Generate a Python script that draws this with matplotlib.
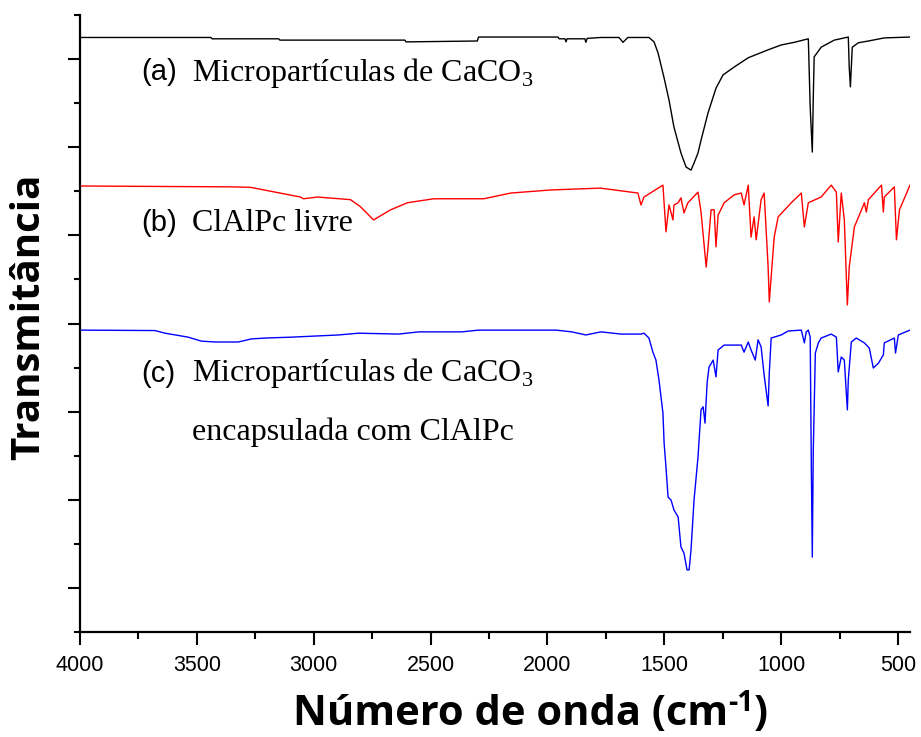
import matplotlib
matplotlib.use("Agg")
import matplotlib.pyplot as plt
from matplotlib.ticker import FixedLocator, NullFormatter

plt.rcParams['mathtext.fontset'] = 'custom'
plt.rcParams['mathtext.rm'] = 'Liberation Serif'

# ---- data (wavenumber cm-1, transmittance in arbitrary offset units) ----
wn_a = [4000, 3440, 3435, 3150, 3145, 2610, 2605, 2300, 2295, 1955, 1950, 1925, 1921, 1916,
        1840, 1836, 1830, 1771, 1694, 1677, 1656, 1566, 1544, 1527, 1501, 1480, 1459, 1429,
        1407, 1386, 1373, 1356, 1343, 1313, 1279, 1249, 1201, 1141, 1056, 1000, 944, 884,
        876, 867, 863, 859, 829, 773, 713, 709, 704, 696, 670, 627, 559, 449]
t_a = [13.49, 13.49, 13.46, 13.46, 13.43, 13.43, 13.39, 13.41, 13.50, 13.50, 13.46, 13.46, 13.39, 13.46,
       13.46, 13.38, 13.47, 13.49, 13.49, 13.38, 13.49, 13.49, 13.39, 13.14, 12.57, 12.07, 11.46, 10.87,
       10.55, 10.48, 10.64, 10.87, 11.16, 11.78, 12.34, 12.64, 12.82, 13.03, 13.21, 13.32, 13.38, 13.46,
       11.91, 10.89, 12.07, 13.05, 13.27, 13.43, 13.50, 12.82, 12.37, 13.27, 13.37, 13.41, 13.48, 13.50]

wn_b = [4000, 3344, 3271, 3057, 3044, 2984, 2843, 2800, 2744, 2671, 2599, 2487, 2273, 2157, 1986,
        1784, 1771, 1613, 1600, 1587, 1506, 1493, 1480, 1463, 1459, 1441, 1429, 1416, 1399, 1356,
        1343, 1321, 1313, 1300, 1287, 1279, 1270, 1244, 1201, 1171, 1159, 1141, 1129, 1116, 1107,
        1086, 1073, 1056, 1051, 1043, 1030, 1013, 957, 914, 901, 884, 829, 786, 764, 756, 743,
        730, 717, 709, 687, 644, 636, 627, 571, 563, 559, 516, 507, 494, 449]
t_b = [10.12, 10.10, 10.09, 9.87, 9.83, 9.87, 9.81, 9.65, 9.35, 9.58, 9.74, 9.83, 9.83, 9.96, 10.03,
       10.07, 10.07, 9.96, 9.69, 9.87, 10.14, 9.08, 9.69, 9.35, 9.69, 9.74, 9.85, 9.51, 9.74, 9.98,
       9.53, 8.28, 8.74, 9.58, 9.58, 8.74, 9.46, 9.74, 9.92, 9.96, 9.69, 10.14, 8.96, 9.42, 8.90,
       9.81, 9.96, 8.28, 7.49, 8.06, 8.96, 9.42, 9.74, 9.96, 9.19, 9.74, 9.87, 10.14, 9.98, 8.85, 9.96,
       9.35, 7.42, 8.28, 9.19, 9.74, 9.53, 9.81, 10.14, 9.53, 9.87, 10.10, 8.90, 9.58, 10.14]

wn_c = [4000, 3679, 3636, 3537, 3481, 3421, 3323, 3267, 3207, 3096, 2894, 2809, 2637, 2551, 2367,
        2294, 1964, 1896, 1836, 1771, 1686, 1600, 1587, 1566, 1549, 1536, 1523, 1506, 1501, 1493,
        1484, 1471, 1459, 1441, 1429, 1416, 1403, 1394, 1386, 1373, 1356, 1343, 1334, 1326, 1317,
        1309, 1291, 1279, 1270, 1244, 1171, 1159, 1141, 1129, 1111, 1099, 1086, 1073, 1056, 1051,
        1043, 1000, 970, 914, 901, 893, 884, 876, 871, 867, 863, 854, 841, 829, 786, 764, 756, 743,
        730, 717, 713, 700, 679, 644, 623, 606, 584, 563, 559, 516, 511, 499, 449]
t_c = [6.85, 6.84, 6.78, 6.69, 6.60, 6.58, 6.58, 6.65, 6.67, 6.69, 6.74, 6.78, 6.76, 6.81, 6.81,
       6.85, 6.85, 6.81, 6.74, 6.81, 6.76, 6.76, 6.78, 6.67, 6.35, 6.17, 5.72, 4.97, 4.29, 3.74,
       3.06, 2.99, 2.77, 2.61, 1.93, 1.79, 1.41, 1.41, 1.86, 2.99, 3.97, 5.04, 5.11, 4.74, 5.65,
       6.01, 6.17, 5.79, 6.40, 6.51, 6.51, 6.35, 6.58, 6.40, 6.17, 6.63, 6.47, 5.83, 5.13, 5.88,
       6.67, 6.74, 6.83, 6.85, 6.56, 6.81, 6.85, 6.69, 3.68, 1.70, 4.06, 6.33, 6.56, 6.67, 6.76, 6.69, 5.90, 6.24,
       6.17, 5.04, 5.72, 6.58, 6.67, 6.56, 6.44, 5.99, 6.10, 6.29, 6.56, 6.67, 6.33, 6.74, 6.85]

x_major = [4000, 3500, 3000, 2500, 2000, 1500, 1000, 500]
x_minor = [3750, 3250, 2750, 2250, 1750, 1250, 750]
x_labels = ["4000", "3500", "3000", "2500", "2000", "1500", "1000", "500"]

labels_tag = ["(a)", "(b)", "(c)"]
labels_text = ["Micropartículas de CaCO$_\\mathrm{3}$", "ClAlPc livre",
               "Micropartículas de CaCO$_\\mathrm{3}$", "encapsulada com ClAlPc"]
ylabel = "Transmitância"
xlabel_parts = ["Número de onda (cm", "-1", ")"]

fig = plt.figure(figsize=(9.21, 7.37), dpi=100)
ax = fig.add_axes([80/921, 1-632/737, 830/921, 617/737])

ax.plot(wn_a, t_a, color='black', lw=1.0)
ax.plot(wn_b, t_b, color='#ff0000', lw=1.0)
ax.plot(wn_c, t_c, color='#0000ff', lw=1.0)

ax.set_xlim(4000, 449)
ax.set_ylim(0, 14)

for s in ['top', 'right']:
    ax.spines[s].set_visible(False)
for s in ['left', 'bottom']:
    ax.spines[s].set_linewidth(1.6)

ax.xaxis.set_major_locator(FixedLocator(x_major))
ax.xaxis.set_minor_locator(FixedLocator(x_minor))
ax.set_xticklabels(x_labels, fontfamily='Liberation Sans', fontsize=15.5)
ax.yaxis.set_major_locator(FixedLocator([1, 3, 5, 7, 9, 11, 13]))
ax.yaxis.set_minor_locator(FixedLocator([0, 2, 4, 6, 8, 10, 12, 14]))
ax.yaxis.set_major_formatter(NullFormatter())
ax.tick_params(axis='x', which='major', direction='out', length=9.5, width=1.5, pad=7)
ax.tick_params(axis='x', which='minor', direction='out', length=5, width=1.5)
ax.tick_params(axis='y', which='major', direction='out', length=9, width=1.5)
ax.tick_params(axis='y', which='minor', direction='out', length=4.5, width=1.5)

sans = 'Liberation Sans'
serif = 'Liberation Serif'
tx_tag = (141-80)/830
tx_txt = (192-80)/830
ys = [(632-80.5)/617, (632-231)/617, (632-381.5)/617, (632-440)/617]
tag_fs = 21
txt_fs = 23
ax.text(tx_tag, ys[0], labels_tag[0], transform=ax.transAxes, fontfamily=sans, fontsize=tag_fs, va='baseline')
ax.text(tx_txt, ys[0], labels_text[0], transform=ax.transAxes, fontfamily=serif, fontsize=txt_fs, va='baseline')
ax.text(tx_tag, ys[1], labels_tag[1], transform=ax.transAxes, fontfamily=sans, fontsize=tag_fs, va='baseline')
ax.text(tx_txt, ys[1], labels_text[1], transform=ax.transAxes, fontfamily=serif, fontsize=txt_fs, va='baseline')
ax.text(tx_tag, ys[2], labels_tag[2], transform=ax.transAxes, fontfamily=sans, fontsize=tag_fs, va='baseline')
ax.text(tx_txt, ys[2], labels_text[2], transform=ax.transAxes, fontfamily=serif, fontsize=txt_fs, va='baseline')
ax.text(tx_txt, ys[3], labels_text[3], transform=ax.transAxes, fontfamily=serif, fontsize=txt_fs, va='baseline')

fig.text(29/921, 1-317/737, ylabel, rotation=90, ha='center', va='center',
         fontfamily='Open Sans', fontweight='bold', fontsize=29)

# x label built from pieces so the superscript is a plain hyphen like the original
lab_fs = 30
yb = 1 - 725/737
t1 = fig.text(0, yb, xlabel_parts[0], ha='left', va='baseline',
              fontfamily='Open Sans', fontweight='bold', fontsize=lab_fs)
t2 = fig.text(0, yb + 14/737, xlabel_parts[1], ha='left', va='baseline',
              fontfamily='Open Sans', fontweight='bold', fontsize=lab_fs*0.68)
t3 = fig.text(0, yb, xlabel_parts[2], ha='left', va='baseline',
              fontfamily='Open Sans', fontweight='bold', fontsize=lab_fs)
fig.canvas.draw()
r = fig.canvas.get_renderer()
w1 = t1.get_window_extent(r).width
w2 = t2.get_window_extent(r).width
w3 = t3.get_window_extent(r).width
x0 = 530 - (w1 + w2 + w3) / 2
t1.set_x(x0/921)
t2.set_x((x0 + w1)/921)
t3.set_x((x0 + w1 + w2)/921)

fig.savefig("out.png", dpi=100)
